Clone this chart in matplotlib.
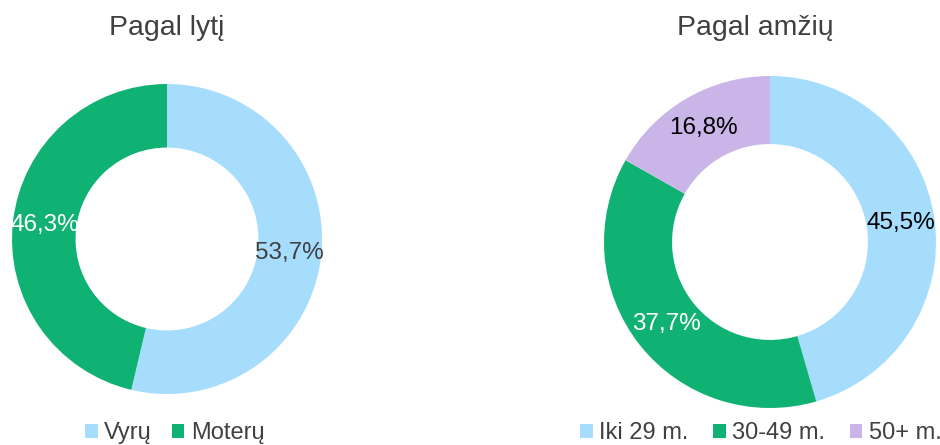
import matplotlib.pyplot as plt

plt.rcParams['font.family'] = ['Liberation Sans', 'DejaVu Sans']

gender_labels = ['Vyrų', 'Moterų']
gender_share = [53.7, 46.3]
gender_colors = ['#A6DDFD', '#10B273']
gender_text = ['#404040', 'white']

age_labels = ['Iki 29 m.', '30-49 m.', '50+ m.']
age_share = [45.5, 37.7, 16.8]
age_colors = ['#A6DDFD', '#10B273', '#C9B5E8']
age_text = ['black', 'white', 'black']

W, H = 940, 445
fig = plt.figure(figsize=(W / 100, H / 100), dpi=100)


def donut(cx, cy, r, title, title_x, shares, labels, colors, text_colors,
          leg_x, colspace):
    ax = fig.add_axes([(cx - r) / W, (H - cy - r) / H, 2 * r / W, 2 * r / H])
    wedges, _, autotexts = ax.pie(
        shares, colors=colors, startangle=90, counterclock=False, radius=1,
        autopct=lambda p: f'{p:.1f}%'.replace('.', ','), pctdistance=0.795,
        wedgeprops=dict(width=0.41, linewidth=0))
    for t, c in zip(autotexts, text_colors):
        t.set_color(c)
        t.set_fontsize(17.5)
    ax.set_xlim(-1, 1)
    ax.set_ylim(-1, 1)
    ax.set_aspect('equal')
    ax.axis('off')
    fig.text(title_x / W, 1 - 28 / H, title, ha='center', va='center',
             fontsize=20.5, color='#404040')
    fig.legend(wedges, labels, loc='center', bbox_to_anchor=(leg_x / W, 1 - 433 / H),
               ncol=len(labels), frameon=False, fontsize=17, labelcolor='#404040',
               handlelength=0.52, handleheight=0.52, handletextpad=0.28,
               columnspacing=colspace, borderpad=0, borderaxespad=0)


donut(167, 239, 155, 'Pagal lytį', 167, gender_share, gender_labels,
      gender_colors, gender_text, 175, 0.85)
donut(770, 242, 166, 'Pagal amžių', 755, age_share, age_labels,
      age_colors, age_text, 761, 1.05)

plt.savefig('out.png', dpi=100)
plt.close()
